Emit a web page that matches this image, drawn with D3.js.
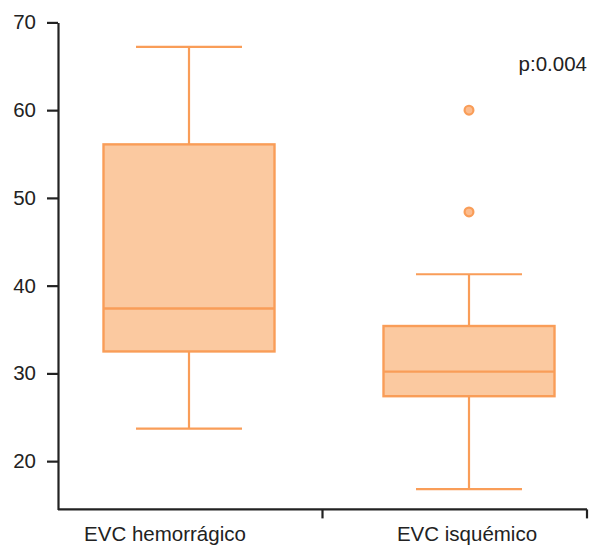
<!DOCTYPE html>
<html>
<head>
<meta charset="utf-8">
<script src="https://cdn.jsdelivr.net/npm/d3@7"></script>
<style>
  html, body { margin: 0; padding: 0; background: #fff; }
  svg { display: block; font-family: "Liberation Sans", Arial, sans-serif; }
</style>
</head>
<body>
<svg id="chart" width="590" height="545"></svg>
<script>
// ---- data ----
const categories = ["EVC hemorrágico", "EVC isquémico"];
const whiskerLow  = [23.7, 16.8];
const q1          = [32.5, 27.4];
const medians     = [37.4, 30.2];
const q3          = [56.1, 35.4];
const whiskerHigh = [67.2, 41.3];
const outliers    = [[], [60.0, 48.4]];
const yTicks      = [20, 30, 40, 50, 60, 70];
const pLabel      = "p:0.004";

// ---- layout ----
const svg = d3.select("#chart");
const axisColor = "#222";
const stroke = "#F99D58";
const fill = "#FBC9A0";
const fontSize = 20.5;

const y = d3.scaleLinear().domain([14.5, 70]).range([509.4, 22.4]);
const xBand = d3.scaleBand().domain(categories).range([58, 587]).paddingInner(0).paddingOuter(0);
const xBox = d3.scalePoint().domain(categories).range([189, 469]);
const xLabel = d3.scalePoint().domain(categories).range([165, 467]);
const boxW = 171, capW = 106;

// y axis
const yAxis = d3.axisLeft(y).tickValues(yTicks).tickSize(11).tickSizeOuter(0).tickPadding(11);
const gy = svg.append("g").attr("transform", "translate(58,0)").call(yAxis);
gy.select(".domain").attr("stroke", axisColor).attr("stroke-width", 2.2);
gy.selectAll(".tick line").attr("stroke", axisColor).attr("stroke-width", 2.2);
gy.selectAll(".tick text").attr("fill", "#222").attr("font-size", fontSize)
  .attr("font-family", "'Liberation Sans', Arial, sans-serif");

// x axis
const gx = svg.append("g").attr("transform", `translate(0,${y(14.5)})`);
gx.append("path")
  .attr("d", `M${xBand.range()[0]},0H${xBand.range()[1]}`)
  .attr("stroke", axisColor).attr("stroke-width", 2.2).attr("fill", "none");
const bounds = categories.map(c => xBand(c) + xBand.bandwidth());
gx.selectAll("line.xt").data(bounds).join("line")
  .attr("class", "xt")
  .attr("x1", d => d).attr("x2", d => d)
  .attr("y1", 0).attr("y2", 9)
  .attr("stroke", axisColor).attr("stroke-width", 2.2);
svg.selectAll("text.xl").data(categories).join("text")
  .attr("class", "xl")
  .attr("x", d => xLabel(d)).attr("y", 540.5)
  .attr("text-anchor", "middle")
  .attr("font-size", fontSize).attr("fill", "#222")
  .text(d => d);

// boxes
const data = categories.map((c, i) => ({
  c, lo: whiskerLow[i], q1: q1[i], med: medians[i], q3: q3[i], hi: whiskerHigh[i], out: outliers[i]
}));
const g = svg.selectAll("g.box").data(data).join("g").attr("class", "box")
  .attr("transform", d => `translate(${xBox(d.c)},0)`);

g.append("line").attr("x1", 0).attr("x2", 0)
  .attr("y1", d => y(d.q3)).attr("y2", d => y(d.hi))
  .attr("stroke", stroke).attr("stroke-width", 2.2);
g.append("line").attr("x1", 0).attr("x2", 0)
  .attr("y1", d => y(d.q1)).attr("y2", d => y(d.lo))
  .attr("stroke", stroke).attr("stroke-width", 2.2);
g.append("line").attr("x1", -capW / 2).attr("x2", capW / 2)
  .attr("y1", d => y(d.hi)).attr("y2", d => y(d.hi))
  .attr("stroke", stroke).attr("stroke-width", 2.2);
g.append("line").attr("x1", -capW / 2).attr("x2", capW / 2)
  .attr("y1", d => y(d.lo)).attr("y2", d => y(d.lo))
  .attr("stroke", stroke).attr("stroke-width", 2.2);
g.append("rect")
  .attr("x", -boxW / 2).attr("width", boxW)
  .attr("y", d => y(d.q3)).attr("height", d => y(d.q1) - y(d.q3))
  .attr("fill", fill).attr("stroke", stroke).attr("stroke-width", 2.4);
g.append("line").attr("x1", -boxW / 2).attr("x2", boxW / 2)
  .attr("y1", d => y(d.med)).attr("y2", d => y(d.med))
  .attr("stroke", stroke).attr("stroke-width", 2.4);
g.selectAll("circle").data(d => d.out).join("circle")
  .attr("cx", 0).attr("cy", v => y(v)).attr("r", 4.4)
  .attr("fill", "#FCBC8E").attr("stroke", stroke).attr("stroke-width", 2.2);

// p-value
svg.append("text").attr("x", 587).attr("y", 70.7)
  .attr("text-anchor", "end").attr("font-size", fontSize).attr("fill", "#222")
  .text(pLabel);
</script>
</body>
</html>
